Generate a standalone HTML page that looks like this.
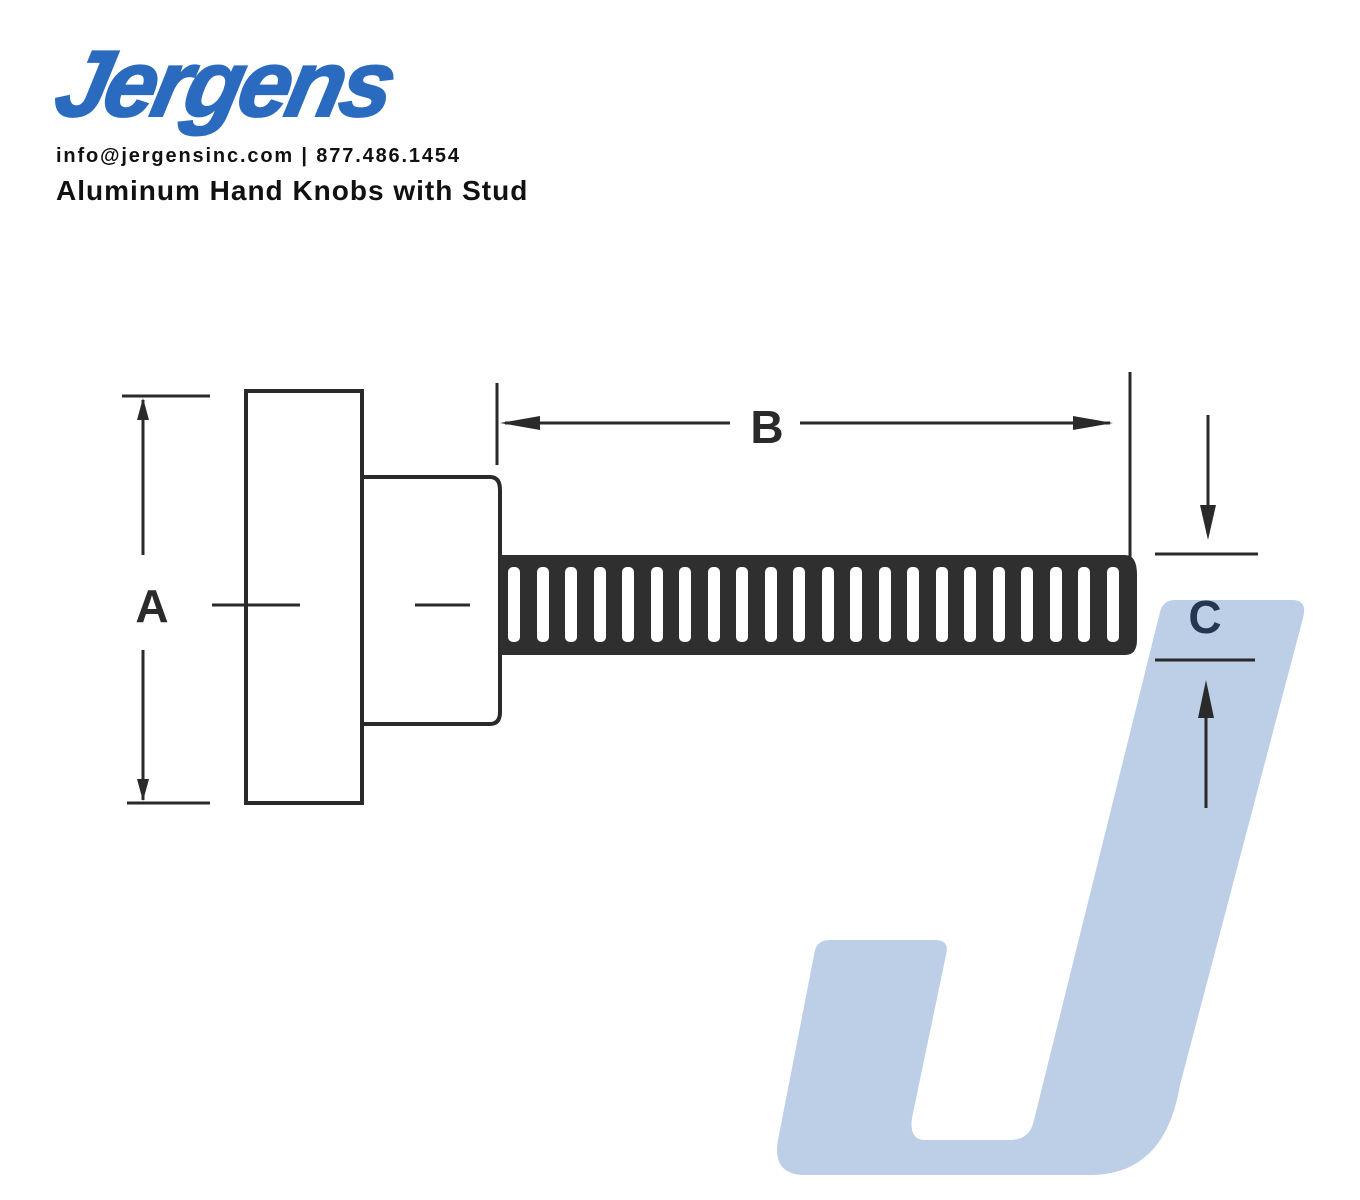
<!DOCTYPE html>
<html><head><style>
html,body{margin:0;padding:0;background:#fff;}
body{width:1360px;height:1200px;position:relative;overflow:hidden;font-family:"Liberation Sans",sans-serif;}
.logo{position:absolute;left:58px;top:30px;font-size:94px;font-weight:bold;font-style:italic;color:#2a6bbf;letter-spacing:-4px;transform:skewX(-12deg);font-family:"Liberation Sans",sans-serif;-webkit-text-stroke:2px #2a6bbf;}
.info{position:absolute;left:56px;top:145px;font-size:20px;font-weight:bold;color:#111;letter-spacing:1.85px;}
.title{position:absolute;left:56px;top:175px;font-size:28px;font-weight:bold;color:#111;letter-spacing:1px;}
svg{position:absolute;left:0;top:0;}
</style></head><body>
<svg width="1360" height="1200" viewBox="0 0 1360 1200">
<path d="M1175,600 L1292,600 Q1308,600 1303,618 L1180,1085 Q1165,1175 1090,1175 L805,1175 Q772,1175 778,1140 L815,950 Q818,940 830,940 L935,940 Q950,940 946,955 L912,1118 Q909,1140 925,1140 L1010,1140 Q1030,1140 1034,1120 L1160,612 Q1163,600 1175,600 Z" fill="#bccfe6"/>
<g stroke="#2a2a2a" fill="none" stroke-width="4">
<rect x="246" y="391" width="116" height="412"/>
<path d="M362,477 L490,477 Q500,477 500,490 L500,712 Q500,724 490,724 L362,724"/>
</g>
<path d="M500,555 L1125,555 Q1137,555 1137,575 L1137,640 Q1137,655 1125,655 L500,655 Z" fill="#2f2f2f"/>
<g fill="#fff">
<rect x="508" y="567" width="12" height="75" rx="5"/><rect x="537" y="567" width="12" height="75" rx="5"/><rect x="565" y="567" width="12" height="75" rx="5"/><rect x="594" y="567" width="12" height="75" rx="5"/><rect x="622" y="567" width="12" height="75" rx="5"/><rect x="651" y="567" width="12" height="75" rx="5"/><rect x="679" y="567" width="12" height="75" rx="5"/><rect x="708" y="567" width="12" height="75" rx="5"/><rect x="736" y="567" width="12" height="75" rx="5"/><rect x="765" y="567" width="12" height="75" rx="5"/><rect x="793" y="567" width="12" height="75" rx="5"/><rect x="822" y="567" width="12" height="75" rx="5"/><rect x="850" y="567" width="12" height="75" rx="5"/><rect x="879" y="567" width="12" height="75" rx="5"/><rect x="907" y="567" width="12" height="75" rx="5"/><rect x="936" y="567" width="12" height="75" rx="5"/><rect x="964" y="567" width="12" height="75" rx="5"/><rect x="993" y="567" width="12" height="75" rx="5"/><rect x="1021" y="567" width="12" height="75" rx="5"/><rect x="1050" y="567" width="12" height="75" rx="5"/><rect x="1078" y="567" width="12" height="75" rx="5"/><rect x="1107" y="567" width="12" height="75" rx="5"/>
</g>
<g stroke="#2a2a2a" stroke-width="3" fill="none">
<line x1="122" y1="396" x2="210" y2="396"/><line x1="127" y1="803" x2="210" y2="803"/>
<line x1="143" y1="400" x2="143" y2="555"/><line x1="143" y1="650" x2="143" y2="800"/>
<line x1="212" y1="605" x2="300" y2="605"/><line x1="415" y1="605" x2="470" y2="605"/>
<line x1="497" y1="383" x2="497" y2="465"/><line x1="1130" y1="372" x2="1130" y2="560"/>
<line x1="505" y1="423" x2="730" y2="423"/><line x1="800" y1="423" x2="1110" y2="423"/>
<line x1="1155" y1="554" x2="1258" y2="554"/><line x1="1155" y1="660" x2="1255" y2="660"/>
<line x1="1208" y1="415" x2="1208" y2="520"/><line x1="1206" y1="700" x2="1206" y2="808"/>
</g>
<g fill="#2a2a2a">
<polygon points="143,398 137,420 149,420"/><polygon points="143,801 137,779 149,779"/>
<polygon points="500,423 540,416 540,430"/><polygon points="1113,423 1073,416 1073,430"/>
<polygon points="1208,540 1200,505 1216,505"/><polygon points="1206,680 1198,718 1214,718"/>
</g>
<g font-family="Liberation Sans,sans-serif" font-weight="bold" font-size="46" text-anchor="middle" fill="#2a2a2a">
<text x="152" y="622">A</text><text x="767" y="443">B</text><text x="1205" y="633" fill="#243650">C</text>
</g>
</svg>
<div class="logo">Jergens</div>
<div class="info">info@jergensinc.com | 877.486.1454</div>
<div class="title">Aluminum Hand Knobs with Stud</div>
</body></html>
